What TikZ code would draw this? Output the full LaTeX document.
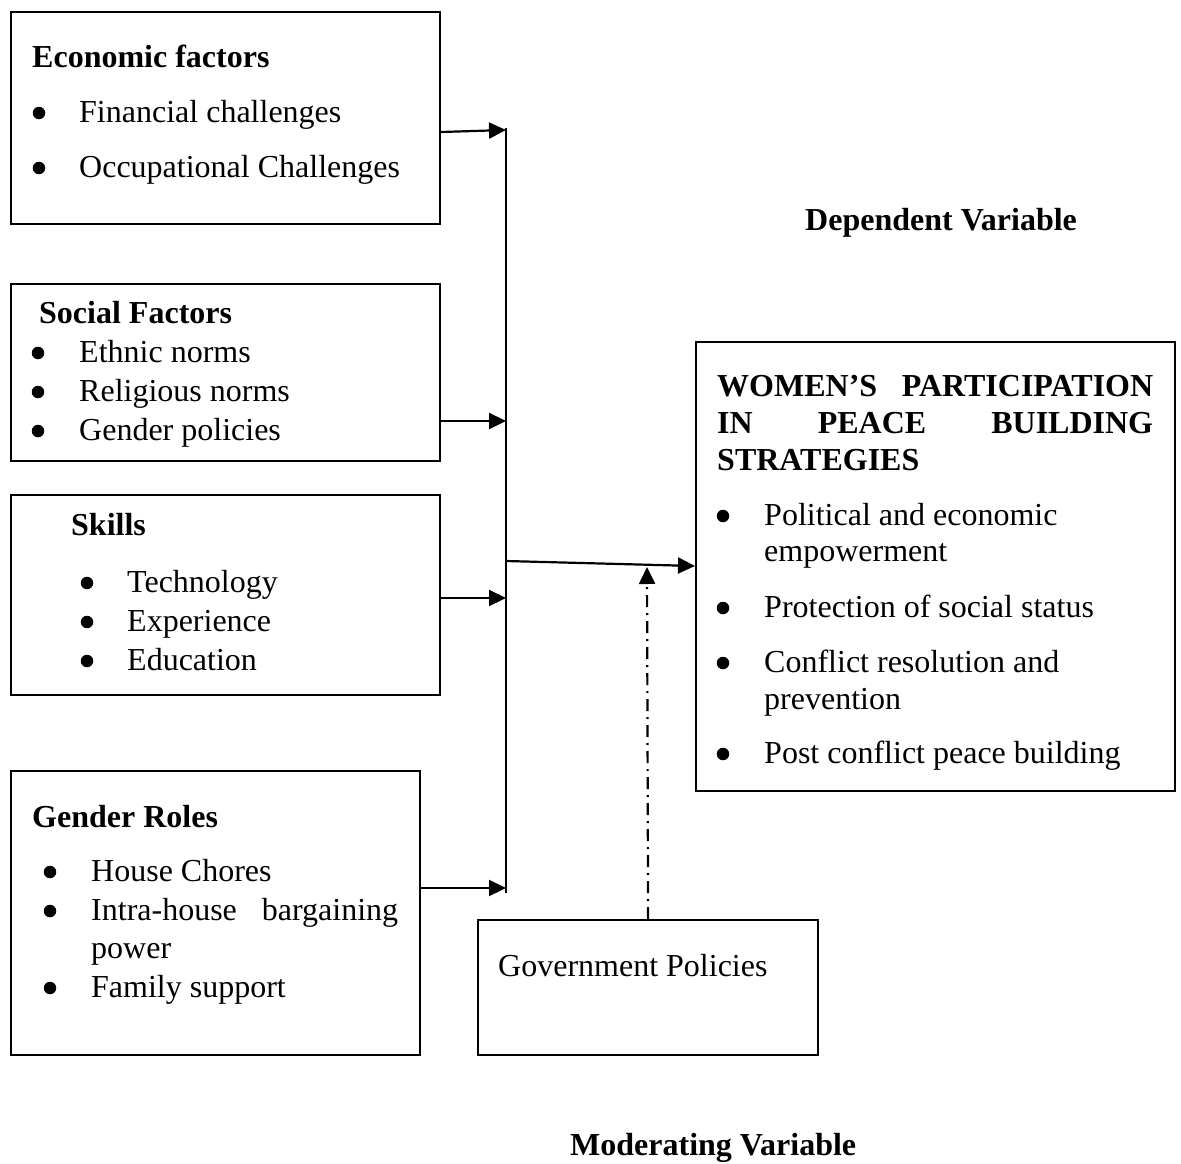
\documentclass[tikz,border=0pt]{standalone}
\usepackage{fontspec}
\setmainfont{Liberation Serif}
\usetikzlibrary{arrows.meta}
\begin{document}
\begin{tikzpicture}[x=1pt,y=-1pt,
  font=\fontsize{32}{38}\selectfont,
  box/.style={draw, line width=2.2pt, inner sep=0pt, anchor=north west},
  txt/.style={anchor=base west, inner sep=0pt},
  hd/.style={anchor=base west, inner sep=0pt, font=\fontsize{32}{38}\selectfont\bfseries},
  bul/.style={circle, fill, inner sep=0pt, minimum size=12.5pt, yshift=9pt},
  arr/.style={line width=2.2pt, -{Triangle[length=17pt,width=16pt]}},
  ]
\useasboundingbox (0,0) rectangle (1181,1164);

% boxes
\node[box, minimum width=429pt, minimum height=212pt] (eco) at (10,11) {};
\node[box, minimum width=429pt, minimum height=177pt] (soc) at (10,283) {};
\node[box, minimum width=429pt, minimum height=200pt] (skl) at (10,494) {};
\node[box, minimum width=409pt, minimum height=284pt] (gen) at (10,770) {};
\node[box, minimum width=340pt, minimum height=135pt] (gov) at (477,919) {};
\node[box, minimum width=479pt, minimum height=449pt] (wom) at (695,341) {};

% economic
\node[hd] (ecoh) at (32,67) {Economic factors};
\node[bul] (ecob1) at (39,122) {};
\node[txt] (ecot1) at (79,122) {Financial challenges};
\node[bul] (ecob2) at (39,177) {};
\node[txt] (ecot2) at (79,177) {Occupational Challenges};

% social
\node[hd] (soch) at (39,323) {Social Factors};
\node[bul] (socb1) at (38,362) {};
\node[txt] (soct1) at (79,362) {Ethnic norms};
\node[bul] (socb2) at (38,401) {};
\node[txt] (soct2) at (79,401) {Religious norms};
\node[bul] (socb3) at (38,440) {};
\node[txt] (soct3) at (79,440) {Gender policies};

% skills
\node[hd] (sklh) at (71,535) {Skills};
\node[bul] (sklb1) at (87,592) {};
\node[txt] (sklt1) at (127,592) {Technology};
\node[bul] (sklb2) at (87,631) {};
\node[txt] (sklt2) at (127,631) {Experience};
\node[bul] (sklb3) at (87,670) {};
\node[txt] (sklt3) at (127,670) {Education};

% gender roles
\node[hd] (genh) at (32,827) {Gender Roles};
\node[bul] (genb1) at (50,881) {};
\node[txt] (gent1) at (91,881) {House Chores};
\node[bul] (genb2) at (50,920) {};
\node[txt] (gent2) at (91,920) {\hbox to 307pt{Intra-house\hfill bargaining}};
\node[txt] (gent3) at (91,958) {power};
\node[bul] (genb4) at (50,997) {};
\node[txt] (gent4) at (91,997) {Family support};

% government
\node[txt] (govt) at (498,976) {Government Policies};

% women
\node[hd] (womh1) at (717,396) {\hbox to 436pt{WOMEN’S\hfill PARTICIPATION}};
\node[hd] (womh2) at (717,433) {\hbox to 436pt{IN\hfill PEACE\hfill BUILDING}};
\node[hd] (womh3) at (717,470) {STRATEGIES};
\node[bul] (womb1) at (723,525) {};
\node[txt] (womt1) at (764,525) {Political and economic};
\node[txt] (womt1b) at (764,561) {empowerment};
\node[bul] (womb2) at (723,617) {};
\node[txt] (womt2) at (764,617) {Protection of social status};
\node[bul] (womb3) at (723,672) {};
\node[txt] (womt3) at (764,672) {Conflict resolution and};
\node[txt] (womt3b) at (764,709) {prevention};
\node[bul] (womb4) at (723,763) {};
\node[txt] (womt4) at (764,763) {Post conflict peace building};

% labels
\node[hd] (dep) at (805,230) {Dependent Variable};
\node[hd] (mod) at (570,1155) {Moderating Variable};

% connectors
\coordinate (bt) at (506,128);
\coordinate (bb) at (506,893);
\coordinate (j1) at (506,130);
\coordinate (j2) at (506,421);
\coordinate (j3) at (506,598);
\coordinate (j4) at (506,888);
\coordinate (jm) at (506,561);
\coordinate (wi) at (695,566);
\coordinate (gi) at (647,567);

\draw[line width=2.2pt] (bt) -- (bb);
\draw[arr] (eco.east |- 0,132) -- (j1);
\draw[arr] (soc.east |- j2) -- (j2);
\draw[arr] (skl.east |- j3) -- (j3);
\draw[arr] (gen.east |- j4) -- (j4);
\draw[arr] (jm) -- (wi);
\draw[arr, dash pattern=on 12pt off 6pt on 2pt off 6pt] (gov.north) -- (gi);
\end{tikzpicture}
\end{document}
